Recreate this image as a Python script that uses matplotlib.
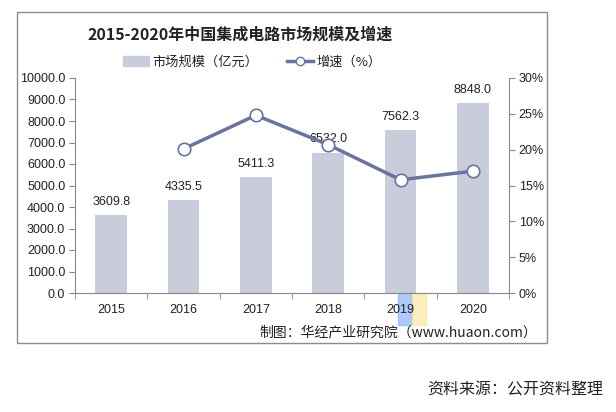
import matplotlib
matplotlib.use("Agg")
import matplotlib.pyplot as plt
from matplotlib.patches import Rectangle
from matplotlib.lines import Line2D
from matplotlib.ticker import FixedLocator, FuncFormatter

plt.rcParams['font.family'] = ['Liberation Sans', 'Noto Sans CJK SC', 'DejaVu Sans']

years = ['2015', '2016', '2017', '2018', '2019', '2020']
market = [3609.8, 4335.5, 5411.3, 6532.0, 7562.3, 8848.0]
growth_years = ['2016', '2017', '2018', '2019', '2020']
growth = [20.1, 24.8, 20.7, 15.8, 17.0]
left_ticks = [0, 1000, 2000, 3000, 4000, 5000, 6000, 7000, 8000, 9000, 10000]
right_ticks = [0, 5, 10, 15, 20, 25, 30]

bar_color = '#c8ccdb'
line_color = '#6b739f'
axis_color = '#888888'
text_color = '#222222'
cjk = ['Noto Sans CJK SC', 'DejaVu Sans']

W, H = 616, 412
fig = plt.figure(figsize=(W / 100, H / 100), dpi=100)

# outer frame
fig.patches.append(Rectangle((17 / W, 1 - 343 / H), 530 / W, 331 / H,
                             transform=fig.transFigure, fill=False,
                             edgecolor='#8c8c8c', linewidth=1.0))

ax = fig.add_axes([75 / W, 1 - 293 / H, 434 / W, 215 / H])
ax2 = ax.twinx()
ax.set_zorder(1)
ax2.set_zorder(2)
ax.patch.set_visible(False)

x = list(range(len(years)))
ax.bar(x, market, width=0.44, color=bar_color, zorder=2)
for xi, v in zip(x, market):
    ax.text(xi, v + 330, f'{v:.1f}', ha='center', va='bottom', fontsize=9,
            color=text_color, zorder=5)

ax.set_xlim(-0.5, len(years) - 0.5)
ax.set_ylim(0, 10000)
ax.set_xticks(x)
ax.set_xticklabels(years, fontsize=9, color=text_color)
ax.xaxis.set_minor_locator(FixedLocator([i - 0.5 for i in range(len(years) + 1)]))
ax.tick_params(axis='x', which='major', length=0, pad=8)
ax.tick_params(axis='x', which='minor', length=4, direction='out', color=axis_color)
ax.set_yticks(left_ticks)
ax.yaxis.set_major_formatter(FuncFormatter(lambda v, p: f'{v:.1f}'))
ax.tick_params(axis='y', length=4, direction='out', color=axis_color,
               labelsize=9, labelcolor=text_color, pad=3)
for s in ['top', 'right']:
    ax.spines[s].set_visible(False)
for s in ['left', 'bottom']:
    ax.spines[s].set_color(axis_color)

gx = [years.index(y) for y in growth_years]
ax2.plot(gx, growth, color=line_color, linewidth=2.5, marker='o',
         markersize=9, markerfacecolor='white', markeredgecolor=line_color,
         markeredgewidth=1.2, zorder=3)
ax2.set_ylim(0, 30)
ax2.set_yticks(right_ticks)
ax2.yaxis.set_major_formatter(FuncFormatter(lambda v, p: f'{v:.0f}%'))
ax2.tick_params(axis='y', length=4, direction='out', color=axis_color,
                labelsize=9, labelcolor=text_color, pad=3)
for s in ['top', 'left', 'bottom']:
    ax2.spines[s].set_visible(False)
ax2.spines['right'].set_color(axis_color)

# title
fig.text(240 / W, 1 - 35 / H, '2015-2020年中国集成电路市场规模及增速',
         ha='center', va='center', fontsize=11.5, fontweight='bold',
         family=cjk, color=text_color)

# legend
handles = [Rectangle((0, 0), 1, 1, color=bar_color),
           Line2D([0], [0], color=line_color, linewidth=2.5, marker='o',
                  markersize=6, markerfacecolor='white',
                  markeredgecolor=line_color)]
leg = fig.legend(handles, ['市场规模（亿元）', '增速（%）'], loc='center',
                 bbox_to_anchor=(252 / W, 1 - 62 / H), ncol=2, frameon=False,
                 handlelength=2.0, columnspacing=2.2, handletextpad=0.2,
                 prop={'family': cjk, 'size': 9.5})
for t in leg.get_texts():
    t.set_color(text_color)

# watermark logo blocks (faint)
fig.patches.append(Rectangle((398 / W, 1 - 325 / H), 14 / W, 32 / H,
                             transform=fig.transFigure, color='#8ab4f8',
                             alpha=0.7, zorder=0))
fig.patches.append(Rectangle((412 / W, 1 - 325 / H), 14 / W, 32 / H,
                             transform=fig.transFigure, color='#fbe7a0',
                             alpha=0.7, zorder=0))

# footers
fig.text(537 / W, 1 - 332 / H, '制图：华经产业研究院（www.huaon.com）',
         ha='right', va='center', fontsize=10, color=text_color, family=cjk)
fig.text(603 / W, 1 - 390 / H, '资料来源：公开资料整理',
         ha='right', va='center', fontsize=11.5, color=text_color, family=cjk)

fig.savefig('out.png', dpi=100)
